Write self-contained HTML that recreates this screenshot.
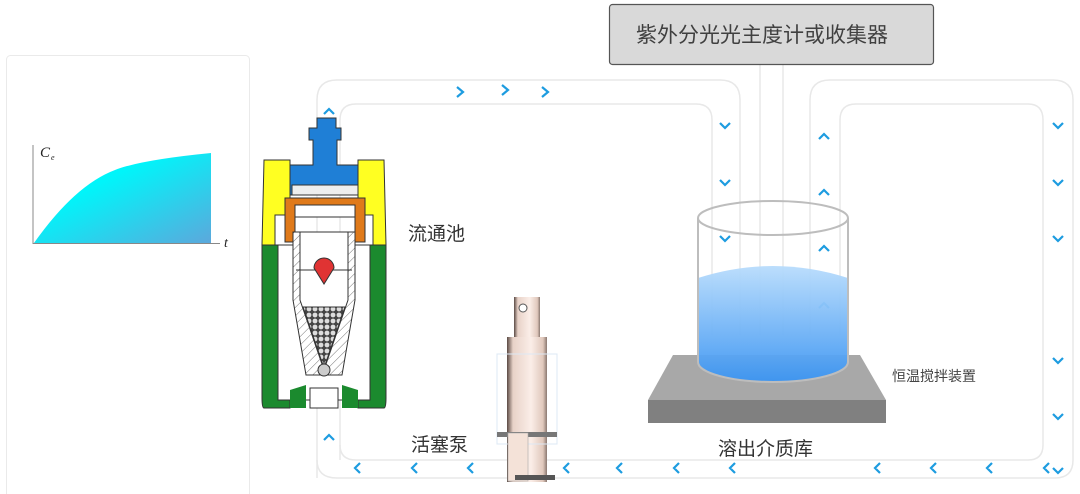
<!DOCTYPE html>
<html><head><meta charset="utf-8"><style>
body{margin:0;width:1080px;height:494px;background:#fff;overflow:hidden;font-family:"Liberation Sans","Noto Sans CJK SC",sans-serif}
</style></head><body>
<svg width="1080" height="494" viewBox="0 0 1080 494" xmlns="http://www.w3.org/2000/svg" style="position:absolute;left:0;top:0">
<defs>
<linearGradient id="g1" x1="0" y1="0" x2="1" y2="1"><stop offset="0.35" stop-color="#00f5fa"/><stop offset="1" stop-color="#5ca8dc"/></linearGradient>
<linearGradient id="w" x1="0" y1="0" x2="0" y2="1"><stop offset="0" stop-color="#b8dcfc"/><stop offset="1" stop-color="#3a94f2"/></linearGradient>
<linearGradient id="pp" x1="0" y1="0" x2="1" y2="0"><stop offset="0" stop-color="#5a4a44"/><stop offset="0.15" stop-color="#e8d2c8"/><stop offset="0.6" stop-color="#fbeee8"/><stop offset="0.9" stop-color="#e0c8bc"/><stop offset="1" stop-color="#8a7870"/></linearGradient>
<pattern id="dots" width="6" height="6" patternUnits="userSpaceOnUse"><rect width="6" height="6" fill="#444"/><circle cx="3" cy="3" r="2.4" fill="#ddd"/></pattern>
<pattern id="hatch" width="6" height="6" patternUnits="userSpaceOnUse" patternTransform="rotate(45)"><rect width="6" height="6" fill="#fff"/><line x1="0" y1="0" x2="0" y2="6" stroke="#777" stroke-width="1"/></pattern>
</defs>
<rect x="6.5" y="55.5" width="243" height="450" rx="4" fill="#fff" stroke="#eaeaea"/>
<path d="M34 243 Q75 185 115 170 Q140 160 211 153 L211 243 Z" fill="url(#g1)"/>
<line x1="33" y1="145" x2="33" y2="244" stroke="#888" stroke-width="1"/>
<line x1="33" y1="243.5" x2="220" y2="243.5" stroke="#888" stroke-width="1"/>
<text x="40" y="157" font-family="Liberation Serif,serif" font-style="italic" font-size="15" fill="#222">C</text>
<text x="51" y="160" font-family="Liberation Serif,serif" font-style="italic" font-size="8" fill="#222">e</text>
<text x="224" y="247" font-family="Liberation Serif,serif" font-style="italic" font-size="14" fill="#222">t</text>
<g fill="none" stroke="#e8e8e8" stroke-width="1.5">
<path d="M317 478 V100 Q317 80 337 80 H720 Q740 80 740 100 V335"/>
<path d="M340 460 V120 Q340 104 356 104 H696 Q712 104 712 120 V335"/>
<path d="M760 64 V335 M783 64 V335"/>
<path d="M810 335 V100 Q810 80 830 80 H1053 Q1073 80 1073 100 V460 Q1073 478 1055 478 H337 Q317 478 317 460"/>
<path d="M840 335 V120 Q840 104 856 104 H1028 Q1043 104 1043 120 V445 Q1043 460 1028 460 H356 Q340 460 340 445"/>
</g>
<g fill="none" stroke="#1d9ce0" stroke-width="2.2">
<path d="M457 87 l6 5 -6 5 M502 85 l6 5 -6 5 M542 87 l6 5 -6 5"/>
<path d="M720 123 l5 5 5 -5 M720 180 l5 5 5 -5 M720 236 l5 5 5 -5"/>
<path d="M819 139 l5 -5 5 5 M819 195 l5 -5 5 5 M819 251 l5 -5 5 5 M819 308 l5 -5 5 5"/>
<path d="M1053 123 l5 5 5 -5 M1053 180 l5 5 5 -5 M1053 236 l5 5 5 -5 M1053 358 l5 5 5 -5 M1053 414 l5 5 5 -5 M1053 468 l5 5 5 -5"/>
<path d="M324 114 l5 -5 5 5 M324 440 l5 -5 5 5"/>
<path d="M360 463 l-5 5 5 5 M417 463 l-5 5 5 5 M473 463 l-5 5 5 5 M569 463 l-5 5 5 5 M622 463 l-5 5 5 5 M679 463 l-5 5 5 5 M735 463 l-5 5 5 5 M880 463 l-5 5 5 5 M936 463 l-5 5 5 5 M992 463 l-5 5 5 5 M1049 463 l-5 5 5 5"/>
</g>
<rect x="609.5" y="4.5" width="324" height="60" rx="3" fill="#d9d9d9" stroke="#555" stroke-width="1.2"/>
<text x="636" y="42" font-size="21" fill="#404040">紫外分光光主度计或收集器</text>
<g>
<path d="M264 160 H290 V215 H275 V245 H262 Z" fill="#ffff22" stroke="#333"/>
<path d="M384 160 H358 V215 H373 V245 H386 Z" fill="#ffff22" stroke="#333"/>
<path d="M317 118 H336 V128 H341 V140 H337 V165 H358 V195 H290 V165 H313 V140 H309 V128 H317 Z" fill="#1f7fd6" stroke="#333"/>
<rect x="292" y="185" width="66" height="10" fill="#eee" stroke="#333"/>
<path d="M285 198 H365 V242 H355 V215 H295 V242 H285 Z" fill="#e07a1a" stroke="#333"/>
<rect x="295" y="205" width="60" height="12" fill="#fff" stroke="#333"/>
<path d="M262 245 H278 V398 H290 V408 H264 Q262 408 262 398 Z" fill="#1b8a2e" stroke="#333"/>
<path d="M386 245 H370 V398 H358 V408 H384 Q386 408 386 398 Z" fill="#1b8a2e" stroke="#333"/>
<rect x="278" y="245" width="92" height="155" fill="#fff" stroke="#333"/>
<path d="M293 232 H355 V300 L342 375 H306 L293 300 Z" fill="url(#hatch)" stroke="#333"/>
<path d="M300 232 H348 V300 L324 370 L300 300 Z" fill="#fff" stroke="#333"/>
<path d="M303 307 H345 L324 368 Z" fill="url(#dots)" stroke="#333"/>
<line x1="296" y1="270" x2="352" y2="270" stroke="#333"/>
<path d="M314 268 A10 10 0 0 1 334 268 L324 284 Z" fill="#e03333" stroke="#333"/>
<circle cx="324" cy="370" r="6" fill="#ccc" stroke="#333"/>
<rect x="310" y="388" width="28" height="20" fill="#fff" stroke="#333"/>
<path d="M290 390 L306 385 V408 H290 Z M358 390 L342 385 V408 H358 Z" fill="#1b8a2e"/>
</g>
<g>
<rect x="514" y="297" width="26" height="40" fill="url(#pp)"/>
<circle cx="523" cy="308" r="4" fill="#fff" stroke="#555"/>
<rect x="507" y="337" width="40" height="145" fill="url(#pp)"/>
<rect x="497" y="354" width="60" height="90" fill="none" stroke="#dde8f4"/>
<rect x="497" y="432" width="60" height="5" fill="#777"/>
<rect x="508" y="433" width="20" height="48" fill="#f4e2d8" stroke="#aaa" stroke-width="0.6"/>
<rect x="515" y="475" width="40" height="5" fill="#555"/>
</g>
<path d="M673 355 H860 L886 400 H648 Z" fill="#a8a8a8"/>
<rect x="648" y="400" width="238" height="23" fill="#808080"/>
<path d="M698 278 Q773 254 848 278 V362 A75 20 0 0 1 698 362 Z" fill="url(#w)" opacity="0.95"/>
<path d="M698 218 V362 A75 20 0 0 0 848 362 V218" fill="none" stroke="#bdbdbd" stroke-width="2"/>
<ellipse cx="773" cy="218" rx="75" ry="17" fill="none" stroke="#bdbdbd" stroke-width="2"/>
<text x="408" y="240" font-size="19" fill="#333">流通池</text>
<text x="411" y="451" font-size="19" fill="#333">活塞泵</text>
<text x="718" y="455" font-size="19" fill="#333">溶出介质库</text>
<text x="892" y="381" font-size="14" fill="#444">恒温搅拌装置</text>
</svg>
</body></html>
